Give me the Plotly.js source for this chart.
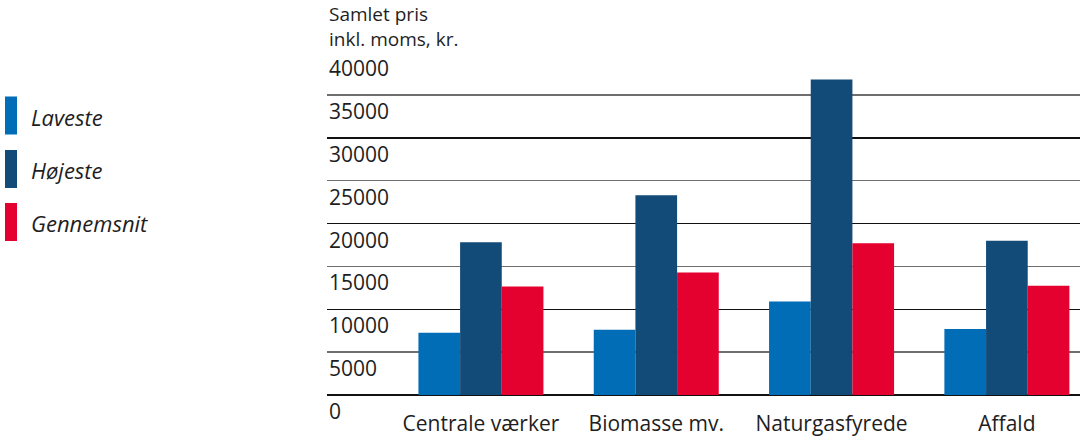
<!DOCTYPE html>
<html>
<head>
<meta charset="utf-8">
<script src="https://cdn.plot.ly/plotly-3.0.1.min.js"></script>
<style>html,body{margin:0;padding:0;background:#fff;}#chart{width:1084px;height:441px;}</style>
</head>
<body>
<div id="chart"></div>
<script>
const categories = ["Centrale værker", "Biomasse mv.", "Naturgasfyrede", "Affald"];
const seriesNames = ["Laveste", "Højeste", "Gennemsnit"];
const laveste = [7250, 7600, 10900, 7700];
const hoejeste = [17800, 23300, 36800, 18000];
const gennemsnit = [12650, 14300, 17700, 12750];
const yTicks = [0, 5000, 10000, 15000, 20000, 25000, 30000, 35000, 40000];
const yTitle = "Samlet pris<br>inkl. moms, kr.";

const colors = ["#006db6", "#124a78", "#e4002f"];
const seriesValues = [laveste, hoejeste, gennemsnit];
const FONT = "Open Sans, Noto Sans, sans-serif";
const TXT = "#1e1e1e";

const traces = seriesValues.map((vals, i) => ({
  type: "bar",
  x: categories,
  y: vals,
  name: seriesNames[i],
  marker: {color: colors[i], line: {width: 0}},
  hoverinfo: "x+y+name"
}));

const annotations = yTicks.map(v => ({
  xref: "paper", yref: "y", x: 0, y: v,
  xanchor: "left", yanchor: "top",
  xshift: 0, yshift: 0,
  text: String(v), showarrow: false,
  font: {family: FONT, size: 21, color: TXT}
}));
annotations.push({
  xref: "paper", yref: "paper", x: 0, y: 1,
  xanchor: "left", yanchor: "bottom", yshift: -2,
  text: yTitle, showarrow: false, align: "left",
  font: {family: FONT, size: 19, color: TXT}
});

const shapes = [];
const legendY = [115.5, 169, 222];
const PW = 753, PH = 343, B = 46;
seriesNames.forEach((n, i) => {
  const yc = legendY[i];
  shapes.push({
    type: "rect", xref: "paper", yref: "paper", layer: "above",
    x0: (5 - 327) / PW, x1: (17 - 327) / PW,
    y0: (441 - B - (yc + 19)) / PH, y1: (441 - B - (yc - 19)) / PH,
    fillcolor: colors[i], line: {width: 0}
  });
  annotations.push({
    xref: "paper", yref: "paper",
    x: (29 - 327) / PW, y: (441 - B - yc) / PH,
    xanchor: "left", yanchor: "middle", yshift: -1,
    text: n, showarrow: false,
    font: {family: FONT, size: 22, color: TXT, style: "italic"}
  });
});

const layout = {
  width: 1084, height: 441,
  margin: {l: 327, r: 4, t: 52, b: B},
  paper_bgcolor: "#fff", plot_bgcolor: "#fff",
  showlegend: false,
  barmode: "group",
  bargap: 0.287,
  bargroupgap: 0,
  font: {family: FONT, size: 21, color: TXT},
  xaxis: {
    type: "category",
    range: [-0.878, 3.417],
    showgrid: false, zeroline: false, showline: false,
    ticks: "", ticklabelstandoff: 14,
    tickfont: {family: FONT, size: 21, color: TXT}
  },
  yaxis: {
    range: [0, 40000],
    dtick: 10000, tick0: 0,
    showgrid: true, gridcolor: "#111", gridwidth: 1.5,
    minor: {dtick: 5000, tick0: 0, showgrid: true, gridcolor: "#6e6e6e", gridwidth: 1.5},
    zeroline: true, zerolinecolor: "#111", zerolinewidth: 1.5,
    showticklabels: false, ticks: "", showline: false
  },
  shapes: shapes,
  annotations: annotations
};

Plotly.newPlot("chart", traces, layout, {displayModeBar: false, staticPlot: true});
</script>
</body>
</html>
